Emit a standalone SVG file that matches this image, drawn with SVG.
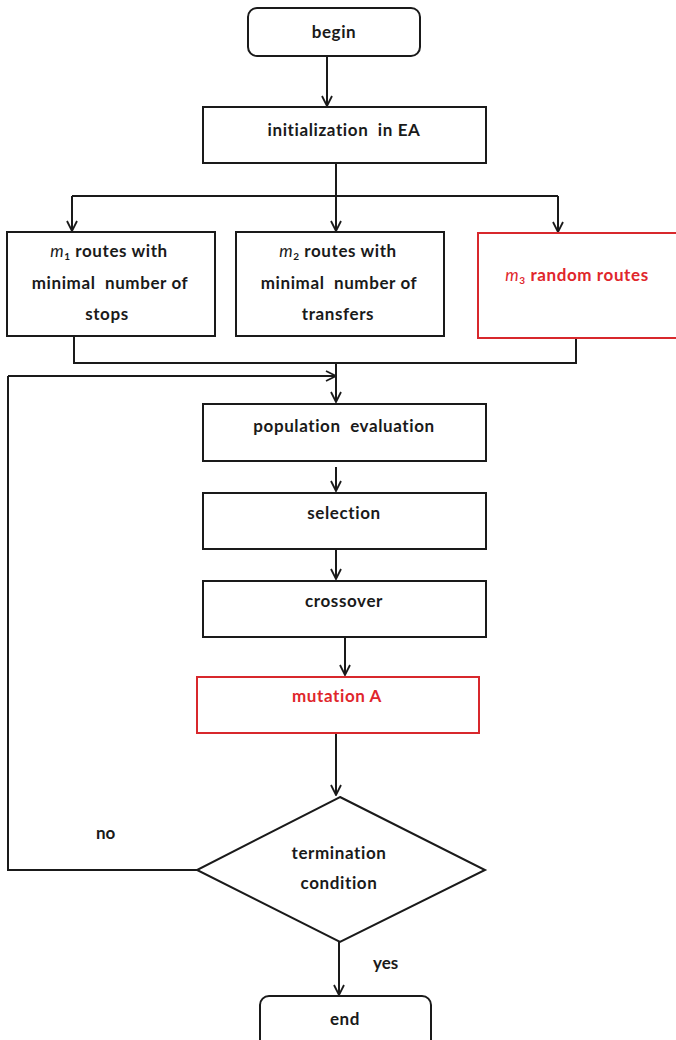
<svg xmlns="http://www.w3.org/2000/svg" width="676" height="1040" viewBox="0 0 676 1040">
  <style>
    .box { fill: #ffffff; stroke: #1a1a1a; stroke-width: 2; }
    .red { fill: #ffffff; stroke: #d8282c; stroke-width: 2; }
    .txt { font-family: Lato, "Liberation Sans", sans-serif; font-size: 17px; font-weight: bold; letter-spacing: 0.6px; fill: #1a1a1a; text-anchor: middle; white-space: pre; }
    .rtxt { fill: #e0262c; }
    .lbl { font-family: Lato, "Liberation Sans", sans-serif; font-size: 17px; font-weight: bold; fill: #1a1a1a; }
    .ln { fill: none; stroke: #1a1a1a; stroke-width: 2; }
  </style>
  <defs>
    <marker id="arr" viewBox="0 0 12 12" refX="11" refY="6" markerWidth="12" markerHeight="12" markerUnits="userSpaceOnUse" orient="auto">
      <polyline points="1,1 11,6 1,11" fill="none" stroke="#1a1a1a" stroke-width="1.8"/>
    </marker>
  </defs>
  <rect width="676" height="1040" fill="#ffffff"/>

  <g id="connectors">
    <line class="ln" x1="327" y1="56" x2="327" y2="106" marker-end="url(#arr)"/>
    <polyline class="ln" points="336,163 336,196"/>
    <polyline class="ln" points="72,196 558,196"/>
    <line class="ln" x1="72" y1="196" x2="72" y2="231" marker-end="url(#arr)"/>
    <line class="ln" x1="336" y1="196" x2="336" y2="231" marker-end="url(#arr)"/>
    <line class="ln" x1="558" y1="196" x2="558" y2="232" marker-end="url(#arr)"/>
    <polyline class="ln" points="74,336 74,363 576,363 576,338"/>
    <line class="ln" x1="336" y1="363" x2="336" y2="402" marker-end="url(#arr)"/>
    <polyline class="ln" points="197,870 8,870 8,376"/>
    <line class="ln" x1="8" y1="376" x2="336" y2="376" marker-end="url(#arr)"/>
    <line class="ln" x1="336" y1="467" x2="336" y2="491" marker-end="url(#arr)"/>
    <line class="ln" x1="336" y1="549" x2="336" y2="579" marker-end="url(#arr)"/>
    <line class="ln" x1="345" y1="637" x2="345" y2="675" marker-end="url(#arr)"/>
    <line class="ln" x1="336" y1="733" x2="336" y2="795" marker-end="url(#arr)"/>
    <line class="ln" x1="339" y1="942" x2="339" y2="995" marker-end="url(#arr)"/>
    <text class="lbl" x="96" y="839">no</text>
    <text class="lbl" x="373" y="969">yes</text>
  </g>

  <g id="begin">
    <rect class="box" x="248" y="8" width="172" height="48" rx="9"/>
    <text class="txt" x="334" y="38">begin</text>
  </g>

  <g id="init">
    <rect class="box" x="203" y="107" width="283" height="56"/>
    <text class="txt" x="344" y="136">initialization  in EA</text>
  </g>

  <g id="stops">
    <rect class="box" x="7" y="232" width="208" height="104"/>
    <text class="txt" x="109" y="257"><tspan font-style="italic" font-weight="normal">m</tspan><tspan font-size="10" dy="3">1</tspan><tspan dy="-3"> routes with</tspan></text>
    <text class="txt" x="110" y="289">minimal  number of</text>
    <text class="txt" x="107" y="320">stops</text>
  </g>

  <g id="transfers">
    <rect class="box" x="236" y="232" width="208" height="104"/>
    <text class="txt" x="338" y="257"><tspan font-style="italic" font-weight="normal">m</tspan><tspan font-size="10" dy="3">2</tspan><tspan dy="-3"> routes with</tspan></text>
    <text class="txt" x="339" y="289">minimal  number of</text>
    <text class="txt" x="338" y="320">transfers</text>
  </g>

  <g id="random">
    <rect class="red" x="478" y="233" width="210" height="105"/>
    <text class="txt rtxt" x="577" y="281"><tspan font-style="italic" font-weight="normal">m</tspan><tspan font-size="10" dy="3">3</tspan><tspan dy="-3"> random routes</tspan></text>
  </g>

  <g id="evaluation">
    <rect class="box" x="203" y="404" width="283" height="57"/>
    <text class="txt" x="344" y="432">population  evaluation</text>
  </g>

  <g id="selection">
    <rect class="box" x="203" y="493" width="283" height="56"/>
    <text class="txt" x="344" y="519">selection</text>
  </g>

  <g id="crossover">
    <rect class="box" x="203" y="581" width="283" height="56"/>
    <text class="txt" x="344" y="607">crossover</text>
  </g>

  <g id="mutation">
    <rect class="red" x="197" y="677" width="282" height="56"/>
    <text class="txt rtxt" x="337" y="702">mutation A</text>
  </g>

  <g id="termination">
    <polygon class="box" points="340,797 485,870 340,942 197,870"/>
    <text class="txt" x="339" y="859">termination</text>
    <text class="txt" x="339" y="889">condition</text>
  </g>

  <g id="end">
    <rect class="box" x="260" y="996" width="171" height="60" rx="9"/>
    <text class="txt" x="345" y="1025">end</text>
  </g>
</svg>
